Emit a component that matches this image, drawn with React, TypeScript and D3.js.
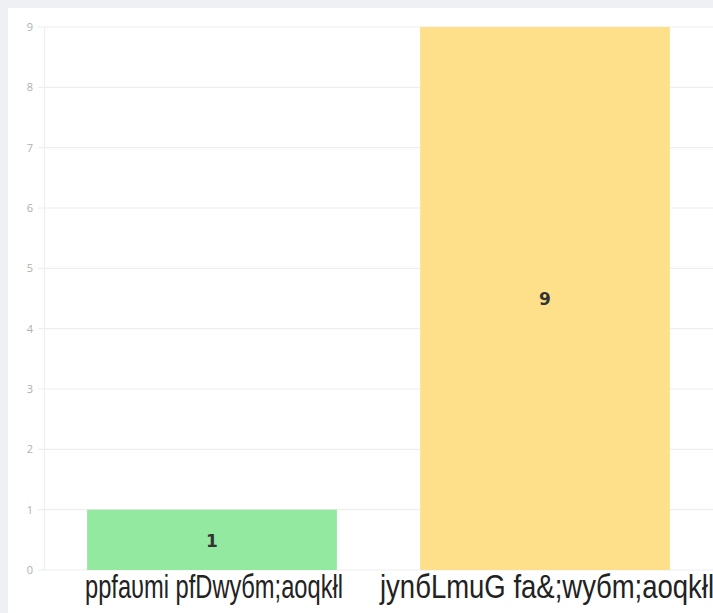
import React from "react";
import * as d3 from "d3";

const categories = ["ppfaυmi pfDwyбm;aoqkłl", "jynбLmuG fa&;wyбm;aoqkłl"];
const values = [1, 9];
const colors = ["#93e9a0", "#ffe08a"];
const yTicks = [0, 1, 2, 3, 4, 5, 6, 7, 8, 9];
const labelWidths = [258, 334];

export default function App() {
  const W = 713, H = 613;
  const x = d3.scaleBand().domain(categories).range([45.5, 711.5]).paddingInner(0.25).paddingOuter(0.125);
  const y = d3.scaleLinear().domain([0, 9]).range([570, 27]);
  return (
    <svg width={W} height={H} style={{ display: "block", position: "absolute", left: 0, top: 0 }}>
      <rect width={W} height={H} fill="#eef0f3" />
      <rect x={8} y={8} width={W} height={H} fill="#fff" />
      {yTicks.map((t) => (
        <g key={t}>
          <line x1={38} x2={W} y1={y(t)} y2={y(t)} stroke="#eeeeee" strokeWidth={1.2} />
          <text x={33} y={y(t)} dy="0.35em" textAnchor="end" fontSize={11} fill="#b0b0b0" fontFamily="Open Sans">{t}</text>
        </g>
      ))}
      <line x1={44.5} x2={44.5} y1={y(9)} y2={y(0)} stroke="#eeeeee" strokeWidth={1.2} />
      {categories.map((c, i) => {
        const cx = x(c)! + x.bandwidth() / 2;
        return (
          <g key={c}>
            <rect x={x(c)} y={y(values[i])} width={x.bandwidth()} height={y(0) - y(values[i])} fill={colors[i]} />
            <text x={cx} y={(y(values[i]) + y(0)) / 2 + 1} dy="0.35em" textAnchor="middle" fontWeight="bold" fontSize={17} fill="#333" fontFamily="DejaVu Sans">{values[i]}</text>
            <text x={cx + 2} y={598} textAnchor="middle" fontSize={34} fill="#222" fontFamily="Liberation Sans" textLength={labelWidths[i]} lengthAdjust="spacingAndGlyphs">{c}</text>
          </g>
        );
      })}
    </svg>
  );
}
